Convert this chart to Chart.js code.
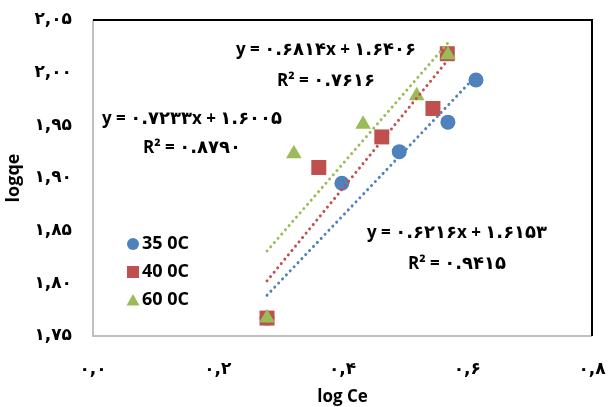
<!DOCTYPE html>
<html>
<head>
<meta charset="utf-8">
<script src="https://cdn.jsdelivr.net/npm/chart.js@4"></script>
<style>
  body { margin: 0; background: #fff; }
  #wrap { width: 613px; height: 407px; }
</style>
</head>
<body>
<div id="wrap"><canvas id="freundlich_chart" width="613" height="407"></canvas></div>
<script>
// log Ce / log qe for each temperature
const series_labels = ['35 0C', '40 0C', '60 0C'];
const series_colors = ['#4F81BD', '#C0504D', '#9BBB59'];
const series_styles = ['circle', 'rect', 'triangle'];

const logce_35 = [0.279, 0.399, 0.491, 0.569, 0.614];
const logqe_35 = [1.767, 1.895, 1.925, 1.953, 1.993];
const logce_40 = [0.279, 0.362, 0.463, 0.545, 0.568];
const logqe_40 = [1.767, 1.910, 1.939, 1.966, 2.018];
const logce_60 = [0.279, 0.322, 0.433, 0.519, 0.569];
const logqe_60 = [1.767, 1.923, 1.951, 1.978, 2.017];

// linear trendlines (slope, intercept, R²) as printed on the chart
const fit_slopes = [0.6216, 0.7233, 0.6814];
const fit_intercepts = [1.6153, 1.6005, 1.6406];
const fit_r2 = ['0.9415', '0.8790', '0.7616'];
const fit_slope_text = ['0.6216', '0.7233', '0.6814'];
const fit_intercept_text = ['1.6153', '1.6005', '1.6406'];

const x_ticks = [0, 0.2, 0.4, 0.6, 0.8];
const y_ticks = [1.75, 1.80, 1.85, 1.90, 1.95, 2.00, 2.05];

const xs = [logce_35, logce_40, logce_60];
const ys = [logqe_35, logqe_40, logqe_60];

const LATIN = '"Open Sans", Lato, sans-serif';
const LATIN_FONT = 'bold 17px ' + LATIN;
const DIGIT_FONT = 'bold 18px "DejaVu Sans", sans-serif';
const FA_DIGITS = '۰۱۲۳۴۵۶۷۸۹';
function toPersian(str){
    return String(str).replace(/[0-9]/g, d => FA_DIGITS[+d]);
}

function points(xa, ya){
    return xa.map((x, i) => ({x: x, y: ya[i]}));
}

function trendPoints(k){
    const lo = Math.min(...xs[k]);
    const hi = Math.max(...xs[k]);
    return [lo, hi].map(x => ({x: x, y: fit_slopes[k] * x + fit_intercepts[k]}));
}

// draws a mixed Latin / Persian-digit string centred at cx
function drawMixed(ctx, text, cx, cy){
    const runs = text.match(/[۰-۹.]+|[^۰-۹.]+/g);
    const fonts = runs.map(r => /[۰-۹]/.test(r) ? DIGIT_FONT : LATIN_FONT);
    let total = 0;
    const widths = runs.map((r, i) => { ctx.font = fonts[i]; const w = ctx.measureText(r).width; total += w; return w; });
    let x = cx - total / 2;
    ctx.textAlign = 'left';
    runs.forEach((r, i) => {
        ctx.font = fonts[i];
        ctx.fillText(r, x, cy);
        x += widths[i];
    });
}

const datasets = [];
const marker_radius = [7.5, 10.6, 9];
const draw_order = [3, 2, 1];
for (let k = 0; k < 3; k++) {
    datasets.push({
        label: series_labels[k],
        data: points(xs[k], ys[k]),
        showLine: false,
        pointStyle: series_styles[k],
        pointRadius: marker_radius[k],
        pointHoverRadius: marker_radius[k],
        pointBackgroundColor: series_colors[k],
        pointBorderColor: series_colors[k],
        pointBorderWidth: 0,
        order: draw_order[k]
    });
}
for (let k = 0; k < 3; k++) {
    datasets.push({
        label: 'trend ' + series_labels[k],
        data: trendPoints(k),
        showLine: true,
        pointRadius: 0,
        borderColor: series_colors[k],
        borderWidth: 3,
        borderCapStyle: 'round',
        borderDash: [0.01, 5.6],
        order: 0
    });
}

// plot-area frame: dark top/right, grey left/bottom
const frame_plugin = {
    id: 'frame',
    afterDraw(chart){
        const a = chart.chartArea;
        const ctx = chart.ctx;
        ctx.save();
        ctx.lineWidth = 2;
        ctx.strokeStyle = '#c0c0c0';
        ctx.beginPath();
        ctx.moveTo(a.left, a.top);
        ctx.lineTo(a.left, a.bottom);
        ctx.lineTo(a.right, a.bottom);
        ctx.stroke();
        ctx.strokeStyle = '#000';
        ctx.beginPath();
        ctx.moveTo(a.left, a.top);
        ctx.lineTo(a.right, a.top);
        ctx.lineTo(a.right, a.bottom);
        ctx.stroke();
        ctx.restore();
    }
};

// legend and trendline equations written inside the plot area
const notes_plugin = {
    id: 'notes',
    afterDraw(chart){
        const ctx = chart.ctx;
        ctx.save();
        ctx.textBaseline = 'middle';
        ctx.fillStyle = '#000';

        // legend
        const ly = [244, 272, 300];
        for (let k = 0; k < 3; k++) {
            const cx = 133, cy = ly[k];
            ctx.fillStyle = series_colors[k];
            ctx.beginPath();
            if (series_styles[k] === 'circle') {
                ctx.arc(cx, cy, 6, 0, Math.PI * 2);
            } else if (series_styles[k] === 'rect') {
                ctx.rect(cx - 6, cy - 6, 12, 12);
            } else {
                ctx.moveTo(cx, cy - 6);
                ctx.lineTo(cx + 6.5, cy + 5.5);
                ctx.lineTo(cx - 6.5, cy + 5.5);
                ctx.closePath();
            }
            ctx.fill();
            ctx.fillStyle = '#000';
            ctx.textAlign = 'left';
            ctx.font = 'bold 18px ' + LATIN;
            ctx.fillText(series_labels[k], 142, cy);
        }

        // equations: [series index, centre x, equation y, R² y]
        const eq_pos = [[0, 457, 233, 264], [1, 192, 119, 148], [2, 326, 50, 81]];
        eq_pos.forEach(p => {
            const k = p[0];
            const eq = 'y = ' + toPersian(fit_slope_text[k]) + 'x + ' + toPersian(fit_intercept_text[k]);
            const r2 = 'R² = ' + toPersian(fit_r2[k]);
            drawMixed(ctx, eq, p[1], p[2]);
            drawMixed(ctx, r2, p[1], p[3]);
        });
        ctx.restore();
    }
};

const ctx = document.getElementById('freundlich_chart').getContext('2d');
const freundlich_chart = new Chart(ctx, {
    type: 'scatter',
    data: { datasets: datasets },
    plugins: [frame_plugin, notes_plugin],
    options: {
        responsive: false,
        animation: false,
        layout: { padding: { top: 20, right: 21, left: 0, bottom: 0 } },
        plugins: {
            legend: { display: false },
            tooltip: { enabled: false }
        },
        scales: {
            x: {
                type: 'linear',
                min: 0,
                max: 0.8,
                afterBuildTicks: s => { s.ticks = x_ticks.map(v => ({value: v})); },
                afterFit: s => { s.height = 71; s.paddingLeft = 0; s.paddingRight = 0; },
                grid: { display: false, drawTicks: false },
                border: { display: false },
                ticks: {
                    padding: 23,
                    color: '#000',
                    font: { family: '"DejaVu Sans", sans-serif', size: 17, weight: 'bold' },
                    callback: v => toPersian(v.toFixed(1).replace('.', ','))
                },
                title: {
                    display: true,
                    text: 'log Ce',
                    color: '#000',
                    padding: { top: 1, bottom: 0 },
                    font: { family: LATIN, size: 17, weight: 'bold' }
                }
            },
            y: {
                type: 'linear',
                min: 1.75,
                max: 2.05,
                afterBuildTicks: s => { s.ticks = y_ticks.map(v => ({value: v})); },
                afterFit: s => { s.width = 93; s.paddingTop = 0; s.paddingBottom = 0; },
                grid: { display: false, drawTicks: false },
                border: { display: false },
                ticks: {
                    padding: 21,
                    color: '#000',
                    font: { family: '"DejaVu Sans", sans-serif', size: 17, weight: 'bold' },
                    callback: v => toPersian(v.toFixed(2).replace('.', ','))
                },
                title: {
                    display: true,
                    text: 'logqe',
                    color: '#000',
                    padding: { top: 3, bottom: 0 },
                    font: { family: LATIN, size: 18, weight: 'bold' }
                }
            }
        }
    }
});
</script>
</body>
</html>
